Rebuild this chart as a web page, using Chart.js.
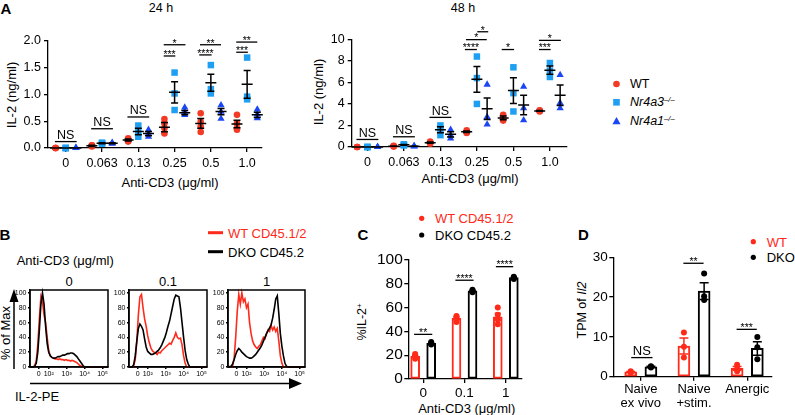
<!DOCTYPE html>
<html><head><meta charset="utf-8">
<script src="https://cdn.jsdelivr.net/npm/chart.js@4.4.1/dist/chart.umd.min.js"></script>
<style>
html,body{margin:0;padding:0;background:#fff;}
#wrap{position:relative;width:795px;height:415px;overflow:hidden;background:#fff;font-family:"Liberation Sans",Arial,"DejaVu Sans",sans-serif;color:#000;}
canvas{position:absolute;}
.t{position:absolute;white-space:nowrap;line-height:1;transform:translate(-50%,-50%);}
.l{position:absolute;white-space:nowrap;line-height:1;transform:translate(0,-50%);}
.rot{transform:translate(-50%,-50%) rotate(-90deg);}
.b{font-weight:bold;font-size:15px;}
.sp{font-size:0.62em;position:relative;top:-0.5em;}
</style></head>
<body>
<div id="wrap">
<svg width="795" height="415" style="position:absolute;left:0;top:0">
 <circle cx="616.5" cy="84" r="3.3" fill="#f23a26"/>
 <rect x="613.2" y="99" width="6.6" height="6.6" fill="#1e9ff2"/>
 <polygon points="616.5,117 620.6,124.2 612.4,124.2" fill="#1a46f5"/>
 <line x1="208" y1="232.7" x2="223" y2="232.7" stroke="#ff2a1a" stroke-width="3"/>
 <line x1="208" y1="251.7" x2="223" y2="251.7" stroke="#000" stroke-width="3"/>
 <line x1="14" y1="369" x2="14" y2="300" stroke="#000" stroke-width="1.5"/>
 <polygon points="14,289 9.5,302 18.5,302" fill="#000"/>
 <line x1="30" y1="383.5" x2="291" y2="383.5" stroke="#000" stroke-width="1.5"/>
 <polygon points="302,383.5 289,378 289,389" fill="#000"/>
 <circle cx="421.7" cy="218.3" r="2.6" fill="#ff2a1a"/>
 <circle cx="421.7" cy="235" r="2.6" fill="#000"/>
 <circle cx="753.3" cy="241.7" r="2.6" fill="#ff2a1a"/>
 <circle cx="753.3" cy="257.3" r="2.6" fill="#000"/>
</svg>
<div class="t b" style="left:6px;top:8px">A</div>
<div class="t" style="left:161px;top:8px;font-size:12.5px">24 h</div>
<div class="t" style="left:463px;top:8px;font-size:12.5px">48 h</div>
<div class="t rot" style="left:11px;top:95px;font-size:13px">IL-2 (ng/ml)</div>
<div class="t rot" style="left:318px;top:92px;font-size:13px">IL-2 (ng/ml)</div>
<div class="t" style="left:170px;top:182px;font-size:13px">Anti-CD3 (μg/ml)</div>
<div class="t" style="left:470px;top:178px;font-size:13px">Anti-CD3 (μg/ml)</div>
<div class="l" style="left:630px;top:84px;font-size:12.5px">WT</div>
<div class="l" style="left:630px;top:102.3px;font-size:12.5px"><i>Nr4a3<span class="sp">–/–</span></i></div>
<div class="l" style="left:630px;top:121px;font-size:12.5px"><i>Nr4a1<span class="sp">–/–</span></i></div>

<div class="t b" style="left:5px;top:234px">B</div>
<div class="l" style="left:228px;top:232.7px;font-size:13px;color:#ff2a1a">WT CD45.1/2</div>
<div class="l" style="left:228px;top:251.7px;font-size:13px">DKO CD45.2</div>
<div class="l" style="left:16.7px;top:260px;font-size:13px">Anti-CD3 (μg/ml)</div>
<div class="t" style="left:69px;top:281px;font-size:13px">0</div>
<div class="t" style="left:168px;top:281px;font-size:13px">0.1</div>
<div class="t" style="left:266.5px;top:281px;font-size:13px">1</div>
<div class="t rot" style="left:5px;top:333px;font-size:13px">% of Max</div>
<div class="l" style="left:15px;top:396px;font-size:13px">IL-2-PE</div>

<div class="t b" style="left:363px;top:233.5px">C</div>
<div class="l" style="left:435px;top:218.3px;font-size:13px;color:#ff2a1a">WT CD45.1/2</div>
<div class="l" style="left:435px;top:235px;font-size:13px">DKO CD45.2</div>
<div class="t rot" style="left:361.7px;top:322px;font-size:12.5px">%IL-2<span class="sp">+</span></div>
<div class="t" style="left:466.7px;top:408px;font-size:13px">Anti-CD3 (μg/ml)</div>

<div class="t b" style="left:583.5px;top:233.5px">D</div>
<div class="l" style="left:766.7px;top:241.7px;font-size:13px;color:#ff2a1a">WT</div>
<div class="l" style="left:766.7px;top:257.3px;font-size:13px">DKO</div>
<div class="t rot" style="left:581.7px;top:310px;font-size:12.5px">TPM of <i>Il2</i></div>
</div>
<script>
// ===================== DATA =====================
// Panel A
const doseLabels = ['0', '0.063', '0.13', '0.25', '0.5', '1.0'];
const wt24  = [[0,0,0,0],[0.05,0.04,0.03,0.05],[0.18,0.15,0.13,0.12],[0.54,0.46,0.37,0.27],[0.65,0.49,0.40,0.30],[0.62,0.46,0.37,0.34]];
const a3_24 = [[0,0,0],[0.10,0.09,0.08],[0.42,0.30,0.21],[1.41,1.02,0.71],[1.55,1.10,1.02],[1.69,0.96,0.91]];
const a1_24 = [[0,0,0],[0.10,0.09,0.08],[0.34,0.27,0.21],[0.76,0.68,0.62],[0.80,0.68,0.55],[0.72,0.63,0.56]];
const wt24Mean = [0,0.04,0.15,0.39,0.46,0.45];
const wt24Sem  = [0,0.01,0.02,0.085,0.09,0.07];
const a3_24Mean = [0,0.09,0.31,1.04,1.22,1.19];
const a3_24Sem  = [0,0.01,0.06,0.20,0.16,0.26];
const a1_24Mean = [0,0.09,0.27,0.66,0.68,0.62];
const a1_24Sem  = [0,0.01,0.04,0.04,0.06,0.05];
const yTicks24 = [0,0.5,1.0,1.5,2.0];
const sig24 = [
  {x1:-0.3,x2:0.3,y:0.12,t:'NS'},{x1:0.7,x2:1.3,y:0.36,t:'NS'},{x1:1.7,x2:2.3,y:0.58,t:'NS'},
  {x1:2.7,x2:3.3,y:1.93,t:'*'},{x1:2.7,x2:3.02,y:1.72,t:'***'},
  {x1:3.7,x2:4.28,y:1.93,t:'**'},{x1:3.68,x2:4.02,y:1.74,t:'****'},
  {x1:4.7,x2:5.28,y:1.98,t:'**'},{x1:4.7,x2:5.02,y:1.79,t:'***'}
];
const wt48  = [[0,0,0],[0.10,0.05,0.08],[0.50,0.40,0.30],[1.55,1.40,1.30],[3.00,2.65,2.45],[3.40,3.30,3.35]];
const a3_48 = [[0,0,0],[0.25,0.20,0.15],[2.0,1.7,1.1],[8.4,6.4,4.0],[7.4,5.0,3.3],[7.8,7.1,6.5]];
const a1_48 = [[0,0,0],[0.10,0.08,0.05],[1.6,1.1,0.8],[5.8,2.8,2.1],[5.6,3.6,2.5],[6.7,4.1,3.6]];
const wt48Mean = [0,0.08,0.40,1.42,2.70,3.35];
const wt48Sem  = [0,0.02,0.06,0.07,0.17,0.03];
const a3_48Mean = [0,0.20,1.60,6.28,5.24,7.13];
const a3_48Sem  = [0,0.03,0.27,1.20,1.20,0.38];
const a1_48Mean = [0,0.08,1.18,3.56,3.90,4.80];
const a1_48Sem  = [0,0.02,0.24,1.00,0.90,0.95];
const yTicks48 = [0,2,4,6,8,10];
const sig48 = [
  {x1:-0.3,x2:0.3,y:0.7,t:'NS'},{x1:0.7,x2:1.3,y:0.95,t:'NS'},{x1:1.7,x2:2.3,y:2.75,t:'NS'},
  {x1:2.67,x2:3.0,y:9.05,t:'****'},{x1:2.7,x2:3.27,y:9.97,t:'*'},{x1:3.01,x2:3.31,y:10.7,t:'*'},
  {x1:3.68,x2:4.02,y:9.05,t:'*'},
  {x1:4.7,x2:5.02,y:9.05,t:'***'},{x1:4.7,x2:5.3,y:9.9,t:'*'}
];
// Panel B (histograms, x in display channel units 0-100)
const histX = [0,4,6,8,10,12,14,16,18,20,22,24,26,28,30,32,34,36,38,40,42,44,46,48,50,52,54,56,58,60,62,64,66,68,70,72,74,76,78,80,100];
const h0WT   = [0,0,2,8,30,65,95,88,70,60,40,22,15,13,12,11,11,10,11,10,10,9,10,9,9,8,9,8,7,6,4,2,1,0,0,0,0,0,0,0,0];
const h0DKO  = [0,0,1,5,20,50,85,100,85,55,32,20,15,13,12,12,13,14,14,15,16,16,17,18,18,19,19,18,16,14,11,8,5,2,0,0,0,0,0,0,0];
const h01WT  = [0,0,2,10,35,70,95,98,80,65,55,42,33,26,22,20,19,17,20,19,22,24,26,28,30,32,31,36,40,46,40,38,39,30,15,5,0,0,0,0,0];
const h01DKO = [0,0,3,15,35,52,58,55,50,38,27,21,19,17,17,18,19,21,23,26,30,35,40,47,55,62,72,82,92,97,96,95,80,60,40,22,10,4,0,0,0];
const h1WT   = [0,0,2,12,40,75,98,85,100,88,92,80,85,60,45,35,30,27,25,28,30,35,40,38,45,50,48,56,50,54,48,52,35,15,5,0,0,0,0,0,0];
const h1DKO  = [0,1,4,10,17,22,25,23,20,18,16,14,13,12,12,13,15,17,20,23,26,30,35,40,45,49,53,57,66,78,92,96,72,45,28,15,5,1,0,0,0];
const histTickPos = [11,24,47,70,93];
const histTickLabels = ['0','10²','10³','10⁴','10⁵'];
const histYTicks = [0,20,40,60,80,100];
// Panel C
const cLabels = ['0','0.1','1'];
const cWT  = [[17,19,20,21],[48,50,52,53],[60,54,50,46]];
const cDKO = [[29,30,30,31],[73,74,75,74],[84,85,86,85]];
const cWTMean = [19,51,52.3];
const cWTSem  = [0.8,1.1,3.0];
const cDKOMean = [30,74,85.2];
const cDKOSem  = [0.4,0.4,0.4];
const cTicks = [0,20,40,60,80,100];
const sigC = [{x1:-0.22,x2:0.22,y:37.5,t:'**'},{x1:0.78,x2:1.22,y:83,t:'****'},{x1:1.76,x2:2.18,y:94.4,t:'****'}];
// Panel D
const dLabels = [['Naive','ex vivo'],['Naive','+stim.'],['Anergic']];
const dWT  = [[1.0,1.2,1.4],[11.1,7.5,4.8],[3.0,2.0,1.4]];
const dDKO = [[2.3,2.6,2.5],[25.9,20.2,19.3],[10.0,7.4,4.4]];
const dWTMean = [1.2,7.7,2.1];
const dWTSem  = [0.12,2.0,0.47];
const dDKOMean = [2.5,21.5,7.1];
const dDKOSem  = [0.1,2.1,1.7];
const dTicks = [0,10,20,30];
const sigD = [{x1:-0.18,x2:0.22,y:4.8,t:'NS'},{x1:0.8,x2:1.18,y:28.5,t:'**'},{x1:1.8,x2:2.18,y:11.9,t:'***'}];

// ===================== RENDER =====================
const FONT = '"Liberation Sans", Arial, "DejaVu Sans", sans-serif';
const RED_A = '#f23a26', BLUE_L = '#1e9ff2', BLUE_D = '#1a46f5', RED = '#ff2a1a';
Chart.defaults.font.family = FONT;
Chart.defaults.color = '#000';

function place(id, cv) {
  const c = document.createElement('canvas');
  c.id = id; c.width = cv.w; c.height = cv.h;
  Object.assign(c.style, {left: cv.l + 'px', top: cv.t + 'px', width: cv.w + 'px', height: cv.h + 'px'});
  document.getElementById('wrap').appendChild(c);
  return c;
}
function axis(o) {
  return {
    type: 'linear', min: o.min, max: o.max, offset: false, beginAtZero: false,
    afterBuildTicks: s => { s.ticks = o.ticks.map(v => ({value: v})); },
    border: {display: true, color: '#000', width: o.bw || 1.3},
    grid: {display: true, offset: false, drawOnChartArea: false, drawTicks: true, tickLength: (o.tl == null ? 4 : o.tl), color: '#000', lineWidth: o.bw || 1.3},
    ticks: {autoSkip: false, maxRotation: 0, minRotation: 0, color: '#000', padding: (o.pad == null ? 3 : o.pad),
      font: {family: FONT, size: o.fs, lineHeight: o.lh || 1.2},
      callback: (v, i) => o.labels ? o.labels[i] : o.fmt(v)}
  };
}
function decor(ex) {
  return {
    id: 'decor',
    afterDatasetsDraw(chart) {
      const ctx = chart.ctx, x = chart.scales.x, y = chart.scales.y;
      ctx.save();
      (ex.errs || []).forEach(e => {
        const px = x.getPixelForValue(e.x), pm = y.getPixelForValue(e.m);
        const pt = y.getPixelForValue(e.m + e.s), pb = y.getPixelForValue(Math.max(e.m - e.s, 0));
        ctx.strokeStyle = e.c; ctx.lineWidth = 1.5;
        ctx.beginPath();
        if (e.mw) { ctx.moveTo(px - e.mw, pm); ctx.lineTo(px + e.mw, pm); }
        if (e.s > 0) {
          ctx.moveTo(px, pt); ctx.lineTo(px, pb);
          ctx.moveTo(px - e.cw, pt); ctx.lineTo(px + e.cw, pt);
          ctx.moveTo(px - e.cw, pb); ctx.lineTo(px + e.cw, pb);
        }
        ctx.stroke();
      });
      (ex.sig || []).forEach(b => {
        const p1 = x.getPixelForValue(b.x1), p2 = x.getPixelForValue(b.x2), py = y.getPixelForValue(b.y);
        ctx.strokeStyle = '#000'; ctx.lineWidth = 1.3;
        ctx.beginPath(); ctx.moveTo(p1, py); ctx.lineTo(p2, py); ctx.stroke();
        const star = b.t.indexOf('*') >= 0;
        ctx.fillStyle = '#000'; ctx.textAlign = 'center'; ctx.textBaseline = 'alphabetic';
        ctx.font = (star ? ex.starSize : ex.nsSize) + 'px ' + FONT;
        ctx.fillText(b.t, (p1 + p2) / 2, star ? py + 1.8 : py - 2.5);
      });
      ctx.restore();
    },
    afterDraw(chart) {
      if (!ex.frame) return;
      const a = chart.chartArea, ctx = chart.ctx;
      ctx.save(); ctx.strokeStyle = '#000'; ctx.lineWidth = 1.5;
      ctx.strokeRect(a.left, a.top, a.right - a.left, a.bottom - a.top);
      ctx.restore();
    }
  };
}
function build(id, cv, area, yW, xH, scales, datasets, ex) {
  const c = place(id, cv);
  const padding = {left: area.l - cv.l - yW, right: cv.l + cv.w - area.r, top: area.t - cv.t, bottom: cv.t + cv.h - area.b - xH};
  scales.x.afterFit = s => { s.height = xH; };
  scales.y.afterFit = s => { s.width = yW; };
  return new Chart(c, {
    type: 'scatter',
    data: {datasets},
    options: {responsive: false, maintainAspectRatio: false, animation: false, devicePixelRatio: 1, events: [],
      layout: {padding}, scales,
      plugins: {legend: {display: false}, tooltip: {enabled: false}}},
    plugins: [decor(ex)]
  });
}
function groupPts(groups, off) {
  const out = [];
  groups.forEach((g, i) => g.forEach(v => out.push({x: i + off, y: v})));
  return out;
}
function errs(means, sems, off, c, mw, cw) {
  return means.map((m, i) => ({x: i + off, m, s: sems[i], c, mw, cw}));
}
function ptsDs(data, style, r, color, order) {
  return {type: 'scatter', data, pointStyle: style, pointRadius: r, pointBackgroundColor: color, pointBorderWidth: 0,
    pointBorderColor: color, showLine: false, clip: false, order: order || 0};
}

// ---- Panel A ----
function panelA(id, cv, area, xmin, xmax, yMax, yTicks, fmt, wt, a3, a1, mw, sw, m3, s3, m1, s1, sig) {
  const OFF = 0.28;
  build(id, cv, area, 40, 25, {
    x: axis({min: xmin, max: xmax, ticks: [0,1,2,3,4,5], labels: doseLabels, fs: 12.5, pad: 4}),
    y: axis({min: 0, max: yMax, ticks: yTicks, fmt, fs: 12.5, pad: 3})
  }, [
    ptsDs(groupPts(wt, -OFF), 'circle', 3.3, RED_A),
    ptsDs(groupPts(a3, 0), 'rect', 4.6, BLUE_L),
    ptsDs(groupPts(a1, OFF), 'triangle', 4.2, BLUE_D)
  ], {
    errs: [].concat(errs(mw, sw, -OFF, '#000', 5.5, 3.5), errs(m3, s3, 0, '#000', 5.5, 3.5), errs(m1, s1, OFF, '#000', 5.5, 3.5)),
    sig, starSize: 10.5, nsSize: 12.5
  });
}
panelA('a24', {l: 0, t: 20, w: 275, h: 160}, {l: 48, t: 41, r: 262, b: 148}, -0.49, 5.41, 2, yTicks24, v => v.toFixed(1),
  wt24, a3_24, a1_24, wt24Mean, wt24Sem, a3_24Mean, a3_24Sem, a1_24Mean, a1_24Sem, sig24);
panelA('a48', {l: 300, t: 20, w: 280, h: 160}, {l: 351.7, t: 39.3, r: 566.7, b: 147}, -0.43, 5.46, 10, yTicks48, v => String(v),
  wt48, a3_48, a1_48, wt48Mean, wt48Sem, a3_48Mean, a3_48Sem, a1_48Mean, a1_48Sem, sig48);

// ---- Panel B ----
function hist(id, cv, area, red, black) {
  const mk = arr => histX.map((x, i) => ({x, y: arr[i]}));
  const line = (arr, col) => ({type: 'line', data: mk(arr), borderColor: col, borderWidth: 1.6, pointRadius: 0,
    tension: 0, fill: false, clip: false});
  build(id, cv, area, 20, 14, {
    x: axis({min: 0, max: 100, ticks: histTickPos, labels: histTickLabels, fs: 7, tl: 2, pad: 1, bw: 1.5}),
    y: axis({min: 0, max: 104, ticks: histYTicks, fmt: v => String(v), fs: 7, tl: 2, pad: 1.5, bw: 1.5})
  }, [line(black, '#000'), line(red, RED)], {frame: true});
}
hist('b1', {l: 6, t: 284, w: 106, h: 101}, {l: 30, t: 290, r: 108, b: 367}, h0WT, h0DKO);
hist('b2', {l: 105, t: 284, w: 106, h: 101}, {l: 129, t: 290, r: 207, b: 367}, h01WT, h01DKO);
hist('b3', {l: 204, t: 284, w: 106, h: 101}, {l: 228, t: 290, r: 305, b: 367}, h1WT, h1DKO);

// ---- Panel C & D ----
function barPanel(id, cv, area, xmin, xmax, yMax, yTicks, labels, yfs, xfs, xH, lh, xpad, off, bw, wt, dko, mW, sW, mD, sD, sig, capW, ns) {
  const bar = (means, o, col) => ({type: 'bar', data: means.map((m, i) => ({x: i + o, y: m})), backgroundColor: '#fff',
    borderColor: col, borderWidth: 2, borderSkipped: false, barThickness: bw, grouped: false, clip: false, order: 2});
  build(id, cv, area, 40, xH, {
    x: axis({min: xmin, max: xmax, ticks: [0,1,2], labels, fs: xfs, pad: xpad, lh}),
    y: axis({min: 0, max: yMax, ticks: yTicks, fmt: v => String(v), fs: yfs, tl: 4, pad: 1.5})
  }, [
    ptsDs(groupPts(wt, -off), 'circle', 3, RED, 0),
    ptsDs(groupPts(dko, off), 'circle', 3, '#000', 0),
    bar(mW, -off, RED), bar(mD, off, '#000')
  ], {
    errs: [].concat(errs(mW, sW, -off, RED, 0, capW), errs(mD, sD, off, '#000', 0, capW)),
    sig, starSize: 10.5, nsSize: ns
  });
}
barPanel('c', {l: 360, t: 240, w: 170, h: 175}, {l: 408.3, t: 260, r: 521.7, b: 379}, -0.36, 2.385, 100, cTicks, cLabels,
  15.5, 13.5, 22, 1.2, 2, 0.194, 9, cWT, cDKO, cWTMean, cWTSem, cDKOMean, cDKOSem, sigC, 3, 12.5);
barPanel('d', {l: 570, t: 240, w: 225, h: 175}, {l: 613.3, t: 257.3, r: 771.7, b: 376.7}, -0.517, 2.46, 30, dTicks, dLabels,
  13.5, 13, 32, 1.05, 2, 0.19, 12, dWT, dDKO, dWTMean, dWTSem, dDKOMean, dDKOSem, sigD, 4.5, 13);
</script>
</body></html>
